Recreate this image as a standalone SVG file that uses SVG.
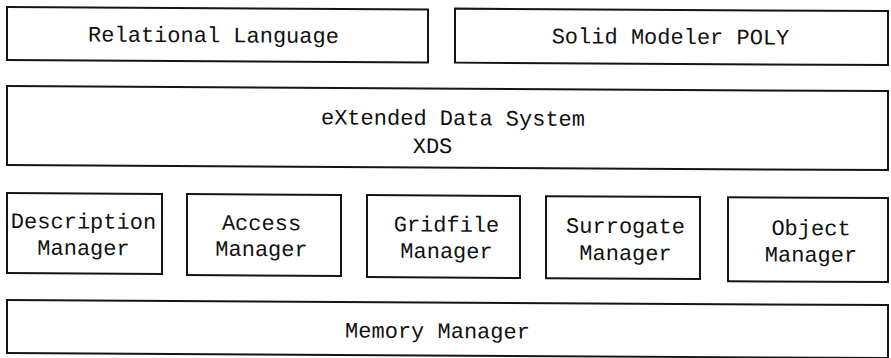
<svg xmlns="http://www.w3.org/2000/svg" width="891" height="358" viewBox="0 0 891 358">
  <style>
    .box { fill: #ffffff; stroke: #151515; stroke-width: 2; }
    .lbl { font-family: "Liberation Mono", "DejaVu Sans Mono", monospace; font-size: 22px; fill: #111111; text-anchor: middle; }
  </style>
  <rect width="891" height="358" fill="#ffffff"/>
  <g transform="skewY(0.33)">
    <g id="relational-language">
      <rect class="box" x="7" y="7" width="421" height="53"/>
      <text class="lbl" x="213.5" y="41">Relational Language</text>
    </g>
    <g id="solid-modeler-poly">
      <rect class="box" x="455" y="6" width="433" height="54"/>
      <text class="lbl" x="670.5" y="40">Solid Modeler POLY</text>
    </g>
    <g id="xds">
      <rect class="box" x="7" y="86" width="881" height="79"/>
      <text class="lbl" x="453" y="122.5">eXtended Data System</text>
      <text class="lbl" x="432.5" y="150.5">XDS</text>
    </g>
    <g id="description-manager">
      <rect class="box" x="7" y="193" width="155" height="80"/>
      <text class="lbl" x="83.5" y="228">Description</text>
      <text class="lbl" x="83.5" y="254.5">Manager</text>
    </g>
    <g id="access-manager">
      <rect class="box" x="187" y="193" width="154" height="81"/>
      <text class="lbl" x="261.5" y="228.5">Access</text>
      <text class="lbl" x="261.5" y="254.5">Manager</text>
    </g>
    <g id="gridfile-manager">
      <rect class="box" x="367" y="193" width="153" height="82"/>
      <text class="lbl" x="446.5" y="229">Gridfile</text>
      <text class="lbl" x="446.5" y="255.5">Manager</text>
    </g>
    <g id="surrogate-manager">
      <rect class="box" x="546" y="193" width="154" height="82"/>
      <text class="lbl" x="625.5" y="229.5">Surrogate</text>
      <text class="lbl" x="625.5" y="256.5">Manager</text>
    </g>
    <g id="object-manager">
      <rect class="box" x="728" y="193" width="160" height="84"/>
      <text class="lbl" x="811" y="230.5">Object</text>
      <text class="lbl" x="811" y="257">Manager</text>
    </g>
    <g id="memory-manager">
      <rect class="box" x="7" y="300" width="881" height="53"/>
      <text class="lbl" x="437.5" y="335.5">Memory Manager</text>
    </g>
    <g id="connectors"/>
  </g>
</svg>
